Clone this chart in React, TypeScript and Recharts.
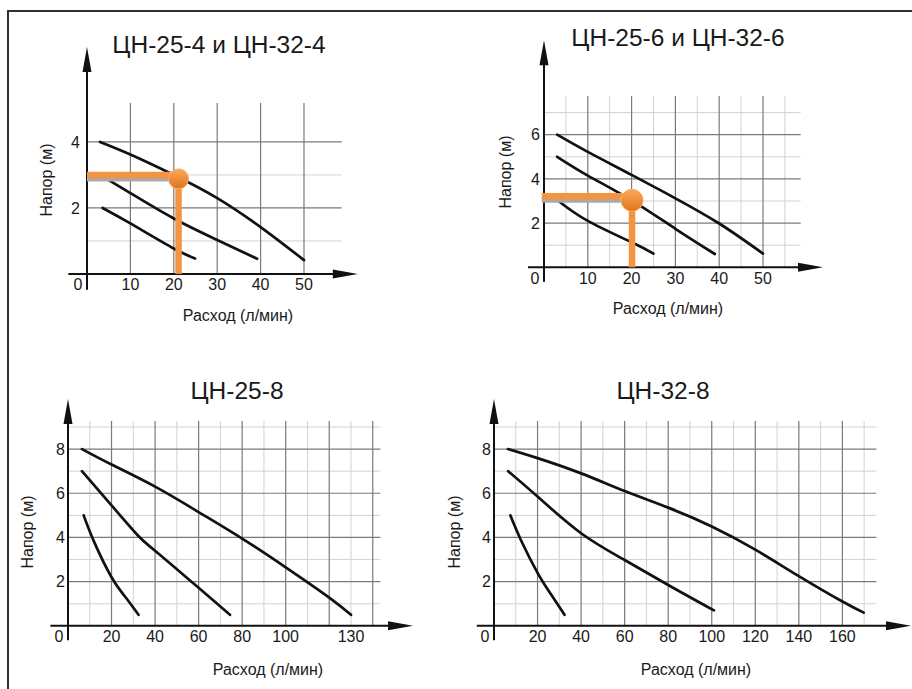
import React from 'react';
import { LineChart, Line, XAxis, YAxis, ReferenceLine, ReferenceDot } from 'recharts';

const FONT = '"Liberation Sans", Arial, sans-serif';
const INK = '#1a1a1a';
const ORANGE = '#F39442';

// ЦН-25-4 и ЦН-32-4 : расход (л/мин) -> напор (м)
const p1High = [
  { q: 3, h: 4.0 }, { q: 10, h: 3.62 }, { q: 20, h: 3.0 }, { q: 30, h: 2.3 }, { q: 40, h: 1.42 }, { q: 50, h: 0.42 },
];
const p1Mid = [
  { q: 3, h: 3.0 }, { q: 10, h: 2.45 }, { q: 20, h: 1.68 }, { q: 30, h: 1.03 }, { q: 39.2, h: 0.46 },
];
const p1Low = [
  { q: 3.6, h: 2.0 }, { q: 10, h: 1.53 }, { q: 20, h: 0.77 }, { q: 24.9, h: 0.47 },
];
const p1XTicks = [0, 10, 20, 30, 40, 50];
const p1YTicks = [2, 4];
const p1XMajor = [10, 20, 30, 40, 50];
const p1XMinor: number[] = [];
const p1YMajor = [2, 4];
const p1YMinor = [1, 3];
const p1Point = { q: 21.1, h: 2.88, lineH: 3.0, from: 0 };

// ЦН-25-6 и ЦН-32-6
const p2High = [
  { q: 3, h: 6.0 }, { q: 10, h: 5.22 }, { q: 20, h: 4.18 }, { q: 30, h: 3.12 }, { q: 40, h: 1.98 }, { q: 50, h: 0.62 },
];
const p2Mid = [
  { q: 3, h: 5.0 }, { q: 10, h: 4.15 }, { q: 20, h: 3.03 }, { q: 30, h: 1.74 }, { q: 39, h: 0.6 },
];
const p2Low = [
  { q: 3.3, h: 3.0 }, { q: 10, h: 2.1 }, { q: 20, h: 1.13 }, { q: 25, h: 0.62 },
];
const p2XTicks = [0, 10, 20, 30, 40, 50];
const p2YTicks = [2, 4, 6];
const p2XMajor = [10, 20, 30, 40, 50];
const p2XMinor = [5, 15, 25, 35, 45, 55];
const p2YMajor = [2, 4, 6];
const p2YMinor = [1, 3, 5, 7];
const p2Point = { q: 20.1, h: 3.03, lineH: 3.21, from: -0.5 };

// ЦН-25-8
const p3High = [
  { q: 6.4, h: 8.0 }, { q: 20, h: 7.3 }, { q: 40, h: 6.3 }, { q: 60, h: 5.15 }, { q: 80, h: 3.95 },
  { q: 100, h: 2.65 }, { q: 120, h: 1.28 }, { q: 130, h: 0.5 },
];
const p3Mid = [
  { q: 6.4, h: 7.0 }, { q: 20, h: 5.45 }, { q: 32, h: 4.1 }, { q: 40, h: 3.4 }, { q: 60, h: 1.72 }, { q: 74.4, h: 0.5 },
];
const p3Low = [
  { q: 7.2, h: 5.0 }, { q: 12, h: 3.8 }, { q: 20, h: 2.2 }, { q: 26, h: 1.35 }, { q: 32.4, h: 0.5 },
];
const p3XTicks = [0, 20, 40, 60, 80, 100, 130];
const p3YTicks = [2, 4, 6, 8];
const p3XMajor = [20, 40, 60, 80, 100, 120, 140];
const p3XMinor = [10, 30, 50, 70, 90, 110, 130];
const p3YMajor = [2, 4, 6, 8];
const p3YMinor = [1, 3, 5, 7, 9];

// ЦН-32-8
const p4High = [
  { q: 6.4, h: 8.0 }, { q: 20, h: 7.59 }, { q: 40, h: 6.9 }, { q: 60, h: 6.1 }, { q: 80, h: 5.35 },
  { q: 100, h: 4.5 }, { q: 120, h: 3.45 }, { q: 140, h: 2.25 }, { q: 160, h: 1.1 }, { q: 169.8, h: 0.6 },
];
const p4Mid = [
  { q: 6.5, h: 7.0 }, { q: 20, h: 5.85 }, { q: 40, h: 4.19 }, { q: 60, h: 2.98 }, { q: 80, h: 1.85 }, { q: 101, h: 0.7 },
];
const p4Low = [
  { q: 7.5, h: 5.0 }, { q: 12.5, h: 3.85 }, { q: 20, h: 2.4 }, { q: 26, h: 1.45 }, { q: 32.4, h: 0.5 },
];
const p4XTicks = [0, 20, 40, 60, 80, 100, 120, 140, 160];
const p4YTicks = [2, 4, 6, 8];
const p4XMajor = [20, 40, 60, 80, 100, 120, 140, 160];
const p4XMinor = [10, 30, 50, 70, 90, 110, 130, 150, 170];
const p4YMajor = [2, 4, 6, 8];
const p4YMinor = [1, 3, 5, 7, 9];

type Pt = { q: number; h: number };
type Cfg = {
  id: string;
  ox: number; oy: number; sx: number; sy: number;
  xMax: number; yMax: number;
  xTicks: number[]; yTicks: number[]; yGap: number;
  xMajor: number[]; xMinor: number[]; yMajor: number[]; yMinor: number[];
  xSpan: [number, number]; ySpan: [number, number];
  curves: Pt[][];
  point?: { q: number; h: number; lineH: number; from: number };
  dotR?: number;
};

const YW = 70;
const MT = 70;
const MR = 50;
const XH = 30;

const Arrow = (props: any) => {
  const { x1, y1, x2, y2 } = props;
  const dx = x2 - x1;
  const dy = y2 - y1;
  const len = Math.hypot(dx, dy) || 1;
  const ux = dx / len;
  const uy = dy / len;
  const L = 25;
  const w = 4.5;
  const bx = x2 - ux * L;
  const by = y2 - uy * L;
  const px = -uy * w;
  const py = ux * w;
  return (
    <g>
      <line x1={x1} y1={y1} x2={bx + ux * 3} y2={by + uy * 3} stroke="#111" strokeWidth={2} />
      <polygon points={`${x2},${y2} ${bx + px},${by + py} ${bx - px},${by - py}`} fill="#111" />
    </g>
  );
};

const Shadow = (props: any) => (
  <line x1={props.x1} y1={props.y1 + 4} x2={props.x2} y2={props.y2 + 4} stroke="#a9a9a9" strokeWidth={5} />
);

const XTick = (props: any) => {
  const { x, y, payload } = props;
  const shift = payload.value === 0 ? -9 : 0;
  return (
    <text x={x + shift} y={y} dy="0.71em" textAnchor="middle" fontSize={16} fill={INK} fontFamily={FONT}>
      {payload.value}
    </text>
  );
};

const Panel = ({ c }: { c: Cfg }) => {
  const plotW = c.xMax * c.sx;
  const plotH = c.yMax * c.sy;
  const left = c.ox - YW;
  const top = c.oy - plotH - MT;
  const width = YW + plotW + MR;
  const height = MT + plotH + XH;
  return (
    <div style={{ position: 'absolute', left, top }}>
      <LineChart width={width} height={height} margin={{ top: MT, right: MR, bottom: 0, left: 0 }}>
        <defs>
          <linearGradient id={`dot-${c.id}`} x1="0" y1="0" x2="0" y2="1">
            <stop offset="0%" stopColor="#F9A95C" />
            <stop offset="100%" stopColor="#E0741A" />
          </linearGradient>
        </defs>
        <XAxis
          dataKey="q"
          type="number"
          domain={[0, c.xMax]}
          ticks={c.xTicks}
          interval={0}
          axisLine={false}
          tickLine={false}
          tickSize={0}
          tickMargin={5}
          height={XH}
          tick={<XTick />}
        />
        <YAxis
          type="number"
          domain={[0, c.yMax]}
          ticks={c.yTicks}
          interval={0}
          axisLine={false}
          tickLine={false}
          tickSize={0}
          tickMargin={c.yGap}
          width={YW}
          tick={{ fontSize: 16, fill: INK, fontFamily: FONT }}
        />
        {c.xMinor.map((v) => (
          <ReferenceLine key={`xm${v}`} x={v} stroke="#d2d2d2" strokeWidth={1} zIndex={50} />
        ))}
        {c.yMinor.map((v) => (
          <ReferenceLine key={`ym${v}`} y={v} stroke="#d2d2d2" strokeWidth={1} zIndex={50} />
        ))}
        {c.xMajor.map((v) => (
          <ReferenceLine key={`xM${v}`} x={v} stroke="#7a7a7a" strokeWidth={1.2} zIndex={60} />
        ))}
        {c.yMajor.map((v) => (
          <ReferenceLine key={`yM${v}`} y={v} stroke="#7a7a7a" strokeWidth={1.2} zIndex={60} />
        ))}
        <ReferenceLine
          segment={[{ x: c.xSpan[0], y: 0 }, { x: c.xSpan[1], y: 0 }]}
          ifOverflow="visible"
          shape={<Arrow />}
          zIndex={450}
        />
        <ReferenceLine
          segment={[{ x: 0, y: c.ySpan[0] }, { x: 0, y: c.ySpan[1] }]}
          ifOverflow="visible"
          shape={<Arrow />}
          zIndex={450}
        />
        {c.curves.map((d, i) => (
          <Line
            key={`c${i}`}
            data={d}
            dataKey="h"
            type="natural"
            stroke="#111"
            strokeWidth={2.7}
            strokeLinecap="round"
            dot={false}
            activeDot={false}
            isAnimationActive={false}
          />
        ))}
        {c.point && (
          <ReferenceLine
            segment={[{ x: c.point.from, y: c.point.lineH }, { x: c.point.q, y: c.point.lineH }]}
            ifOverflow="visible"
            shape={<Shadow />}
            zIndex={700}
          />
        )}
        {c.point && (
          <ReferenceLine
            segment={[{ x: c.point.from, y: c.point.lineH }, { x: c.point.q, y: c.point.lineH }]}
            ifOverflow="visible"
            stroke={ORANGE}
            strokeWidth={6.5}
            zIndex={710}
          />
        )}
        {c.point && (
          <ReferenceLine
            segment={[{ x: c.point.q, y: c.point.h }, { x: c.point.q, y: 0 }]}
            ifOverflow="visible"
            stroke={ORANGE}
            strokeWidth={6.5}
            zIndex={710}
          />
        )}
        {c.point && (
          <ReferenceDot
            x={c.point.q}
            y={c.point.h}
            r={c.dotR ?? 10.5}
            ifOverflow="visible"
            fill={`url(#dot-${c.id}) #F08A2C`}
            stroke="#F6AE68"
            strokeWidth={1}
            zIndex={800}
          />
        )}
      </LineChart>
    </div>
  );
};

const panels: Cfg[] = [
  {
    id: 'p1', ox: 87, oy: 274, sx: 4.34, sy: 33, xMax: 58.7, yMax: 5.18,
    xTicks: p1XTicks, yTicks: p1YTicks, yGap: 7,
    xMajor: p1XMajor, xMinor: p1XMinor, yMajor: p1YMajor, yMinor: p1YMinor,
    xSpan: [-4.3, 62.4], ySpan: [-0.48, 6.88],
    curves: [p1High, p1Mid, p1Low], point: p1Point, dotR: 10,
  },
  {
    id: 'p2', ox: 544, oy: 267, sx: 4.38, sy: 22.1, xMax: 58.6, yMax: 7.75,
    xTicks: p2XTicks, yTicks: p2YTicks, yGap: 4,
    xMajor: p2XMajor, xMinor: p2XMinor, yMajor: p2YMajor, yMinor: p2YMinor,
    xSpan: [-3.65, 63.7], ySpan: [-0.66, 10.27],
    curves: [p2High, p2Mid, p2Low], point: p2Point, dotR: 11,
  },
  {
    id: 'p3', ox: 67.7, oy: 626, sx: 2.177, sy: 22.1, xMax: 143.5, yMax: 9.27,
    xTicks: p3XTicks, yTicks: p3YTicks, yGap: 3,
    xMajor: p3XMajor, xMinor: p3XMinor, yMajor: p3YMajor, yMinor: p3YMinor,
    xSpan: [-8.1, 158.5], ySpan: [-0.65, 10.27],
    curves: [p3High, p3Mid, p3Low],
  },
  {
    id: 'p4', ox: 494.3, oy: 626, sx: 2.1775, sy: 22.1, xMax: 175.6, yMax: 9.27,
    xTicks: p4XTicks, yTicks: p4YTicks, yGap: 3,
    xMajor: p4XMajor, xMinor: p4XMinor, yMajor: p4YMajor, yMinor: p4YMinor,
    xSpan: [-7.9, 191.5], ySpan: [-0.65, 10.27],
    curves: [p4High, p4Mid, p4Low],
  },
];

const titles = [
  { text: 'ЦН-25-4 и ЦН-32-4', x: 219, y: 45 },
  { text: 'ЦН-25-6 и ЦН-32-6', x: 678, y: 38 },
  { text: 'ЦН-25-8', x: 237, y: 391 },
  { text: 'ЦН-32-8', x: 663, y: 391 },
];
const xNames = [
  { x: 238, y: 316 },
  { x: 668, y: 309 },
  { x: 268, y: 670 },
  { x: 696, y: 670 },
];
const yNames = [
  { x: 47, y: 180 },
  { x: 505.5, y: 172 },
  { x: 27.5, y: 532 },
  { x: 455, y: 532 },
];

const Txt = ({ x, y, size, rotate, children }: any) => (
  <div
    style={{
      position: 'absolute',
      left: x,
      top: y,
      fontSize: size,
      lineHeight: 1,
      whiteSpace: 'nowrap',
      color: INK,
      fontFamily: FONT,
      transform: `translate(-50%, -50%)${rotate ? ' rotate(-90deg)' : ''}`,
    }}
  >
    {children}
  </div>
);

export default function App() {
  return (
    <div
      style={{
        position: 'absolute',
        left: 0,
        top: 0,
        width: 912,
        height: 689,
        overflow: 'hidden',
        background: '#fff',
      }}
    >
      <div
        style={{
          position: 'absolute',
          left: 7,
          top: 10,
          width: 920,
          height: 700,
          borderTop: '2px solid #303030',
          borderLeft: '2px solid #303030',
        }}
      />
      {panels.map((p) => (
        <Panel key={p.id} c={p} />
      ))}
      {titles.map((t) => (
        <Txt key={t.text} x={t.x} y={t.y} size={24.5}>
          {t.text}
        </Txt>
      ))}
      {xNames.map((n, i) => (
        <Txt key={`xn${i}`} x={n.x} y={n.y} size={16}>
          Расход (л/мин)
        </Txt>
      ))}
      {yNames.map((n, i) => (
        <Txt key={`yn${i}`} x={n.x} y={n.y} size={16} rotate>
          Напор (м)
        </Txt>
      ))}
    </div>
  );
}
